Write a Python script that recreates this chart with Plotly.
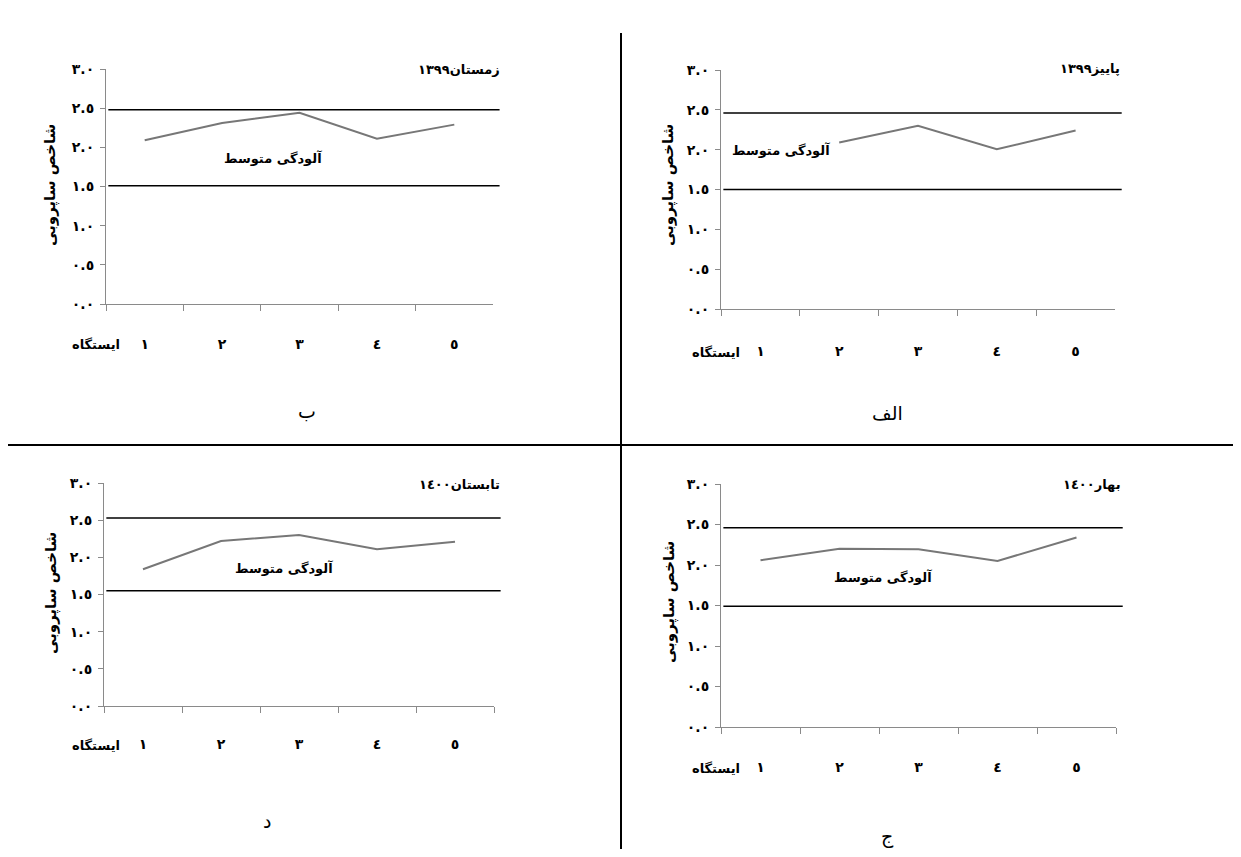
import plotly.graph_objects as go

W, H = 1241, 857
OFF = 8  # default page margin of the browser body
FW, FH = W - 2 * OFF, H - 2 * OFF

# ---------------- data ----------------
stations = ["١", "٢", "٣", "٤", "٥"]
y_tickvals = [0, 0.5, 1.0, 1.5, 2.0, 2.5, 3.0]
y_ticktext = ["٠.٠", "٠.٥", "١.٠", "١.٥", "٢.٠", "٢.٥", "٣.٠"]

autumn_1399 = [None, 2.09, 2.30, 2.005, 2.24]   # الف
winter_1399 = [2.09, 2.31, 2.44, 2.11, 2.29]    # ب
spring_1400 = [2.06, 2.20, 2.195, 2.05, 2.34]   # ج
summer_1400 = [1.84, 2.22, 2.30, 2.11, 2.21]    # د

upper_limits = [2.46, 2.48, 2.46, 2.53]   # الف, ب, ج, د
lower_limits = [1.50, 1.51, 1.49, 1.55]

titles = ["پاییز١٣٩٩", "زمستان١٣٩٩", "بهار١٤٠٠", "تابستان١٤٠٠"]
panel_letters = ["الف", "ب", "ج", "د"]
y_title = "شاخص ساپروبی"
x_title = "ایستگاه"
zone_label = "آلودگی متوسط"

series = [autumn_1399, winter_1399, spring_1400, summer_1400]

# ---------------- layout geometry (page pixels) ----------------
boxes = [
    (721, 1115, 70, 309),      # الف
    (106, 493, 69, 304),       # ب
    (721, 1116, 484, 727),     # ج
    (104, 494, 483, 706),      # د
]
title_pos = [(1122, 68), (502, 70), (1123, 485), (502, 484)]
zone_pos = [(781, 150), (273, 158), (883, 577), (284, 568)]
ytitle_pos = [(669, 185), (51, 185), (669, 602), (51, 593)]
xtitle_pos = [(742, 352), (122, 345), (742, 768), (122, 745)]
letter_pos = [(887, 413), (307, 411), (887, 836), (267, 821)]
xlabel_standoff = [29, 27, 27, 25]

FONT = "DejaVu Sans"


def fx(p):
    return (p - OFF) / FW


def fy(p):
    return 1 - (p - OFF) / FH


fig = go.Figure()
annotations = []
shapes = []

for i in range(4):
    n = "" if i == 0 else str(i + 1)
    x0, x1, yt, yb = boxes[i]
    fig.add_trace(go.Scatter(
        x=stations, y=series[i], mode="lines",
        line=dict(color="#777777", width=2),
        connectgaps=False, showlegend=False, hoverinfo="x+y",
        xaxis="x" + n, yaxis="y" + n,
    ))
    axis_common = dict(showgrid=False, zeroline=False, showline=True,
                       automargin=False,
                       linecolor="#8a8a8a", linewidth=1, ticks="outside",
                       tickcolor="#8a8a8a", tickwidth=1,
                       tickfont=dict(family=FONT, size=14, color="black", weight="bold"))
    fig.update_layout(**{
        "xaxis" + n: dict(axis_common, domain=[fx(x0), fx(x1)], anchor="y" + n,
                          type="category", tickson="boundaries", ticklen=6,
                          range=[-0.5, 4.5], ticklabelstandoff=xlabel_standoff[i]),
        "yaxis" + n: dict(axis_common, domain=[fy(yb), fy(yt)], anchor="x" + n,
                          range=[0, 3], tickvals=y_tickvals, ticktext=y_ticktext,
                          ticklen=5, ticklabelstandoff=3),
    })
    for lim in (upper_limits[i], lower_limits[i]):
        shapes.append(dict(type="line", xref="x" + n + " domain", yref="y" + n,
                           x0=0.006, x1=1.017, y0=lim, y1=lim,
                           line=dict(color="black", width=1.5)))
    bold = dict(family=FONT, size=13, color="black", weight="bold")
    annotations += [
        dict(text=titles[i], x=fx(title_pos[i][0]), y=fy(title_pos[i][1]),
             xref="paper", yref="paper", xanchor="right", yanchor="middle",
             showarrow=False, font=bold),
        dict(text=zone_label, x=fx(zone_pos[i][0]), y=fy(zone_pos[i][1]),
             xref="paper", yref="paper", xanchor="center", yanchor="middle",
             showarrow=False, font=dict(bold, size=13)),
        dict(text=y_title, x=fx(ytitle_pos[i][0]), y=fy(ytitle_pos[i][1]),
             xref="paper", yref="paper", xanchor="center", yanchor="middle",
             textangle=-90, showarrow=False, font=dict(bold, size=15)),
        dict(text=x_title, x=fx(xtitle_pos[i][0]), y=fy(xtitle_pos[i][1]),
             xref="paper", yref="paper", xanchor="right", yanchor="middle",
             showarrow=False, font=bold),
        dict(text=panel_letters[i], x=fx(letter_pos[i][0]), y=fy(letter_pos[i][1]),
             xref="paper", yref="paper", xanchor="center", yanchor="middle",
             showarrow=False, font=dict(family=FONT, size=19, color="black")),
    ]

# dividers between the four panels
shapes += [
    dict(type="line", xref="paper", yref="paper", x0=fx(621), x1=fx(621),
         y0=fy(33), y1=fy(857), line=dict(color="black", width=2)),
    dict(type="line", xref="paper", yref="paper", x0=fx(8), x1=fx(1241),
         y0=fy(445), y1=fy(445), line=dict(color="black", width=2)),
]

fig.update_layout(
    width=FW, height=FH, margin=dict(l=0, r=0, t=0, b=0, autoexpand=False),
    paper_bgcolor="white", plot_bgcolor="white",
    shapes=shapes, annotations=annotations, showlegend=False,
    font=dict(family=FONT, color="black"),
)

fig.write_html("out.html", config={"displayModeBar": False})
